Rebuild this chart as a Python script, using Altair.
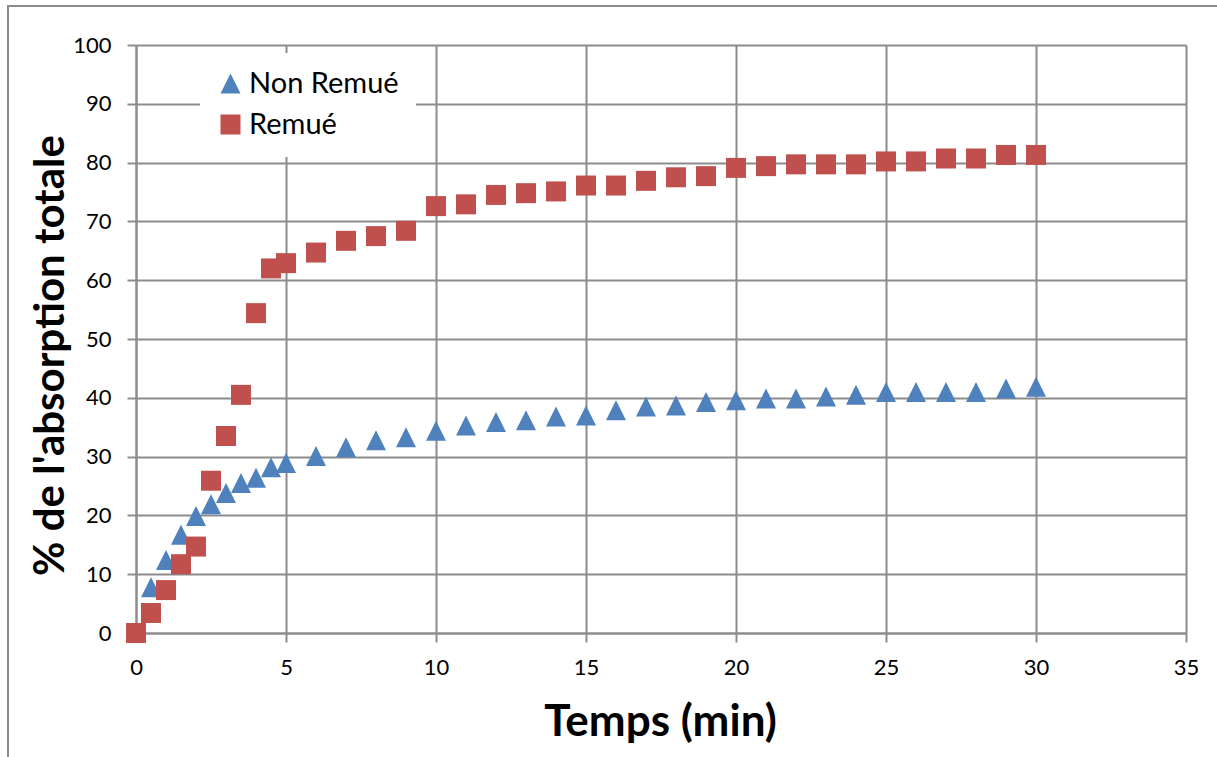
import altair as alt
import pandas as pd

temps = [0, 0.5, 1, 1.5, 2, 2.5, 3, 3.5, 4, 4.5, 5, 6, 7, 8, 9, 10, 11, 12, 13, 14,
         15, 16, 17, 18, 19, 20, 21, 22, 23, 24, 25, 26, 27, 28, 29, 30]
non_remue = [0, 7.8, 12.4, 16.7, 19.9, 21.9, 23.8, 25.5, 26.4, 28.2, 28.9, 30.1, 31.6,
             32.8, 33.3, 34.4, 35.3, 35.9, 36.2, 36.8, 37.0, 37.9, 38.5, 38.7, 39.3, 39.6,
             39.9, 39.9, 40.2, 40.5, 41.0, 41.0, 41.0, 41.0, 41.6, 41.9]
remue = [0, 3.4, 7.3, 11.7, 14.7, 25.9, 33.5, 40.5, 54.4, 62.0, 62.9, 64.7, 66.7, 67.5,
         68.4, 72.6, 72.9, 74.5, 74.8, 75.1, 76.1, 76.1, 76.9, 77.5, 77.7, 79.1, 79.4,
         79.7, 79.7, 79.7, 80.2, 80.2, 80.7, 80.7, 81.3, 81.3]
series = ["Non Remué", "Remué"]
colors = ["#4F81BD", "#C0504D"]
shapes = ["M0,-1L1,1L-1,1Z", "square"]

df = pd.DataFrame({
    "t": temps + temps,
    "v": non_remue + remue,
    "s": [series[0]] * len(temps) + [series[1]] * len(temps),
})

FONT = "Lato"
GRID = "#8c8c8c"

points = alt.Chart(df).mark_point(filled=True, size=400, opacity=1).encode(
    x=alt.X("t:Q", scale=alt.Scale(domain=[0, 35], nice=False, zero=False),
            axis=alt.Axis(values=list(range(0, 36, 5)), title="Temps (min)",
                          titleX=524, titleY=89, titleBaseline="middle",
                          labelPadding=15, labelFlush=False)),
    y=alt.Y("v:Q", scale=alt.Scale(domain=[0, 100], nice=False),
            axis=alt.Axis(values=list(range(0, 101, 10)), title="% de l'absorption totale",
                          titleX=-86, titleY=310, titleAngle=-90,
                          titleBaseline="middle", titleAlign="center",
                          labelPadding=16, labelFlush=False)),
    color=alt.Color("s:N", scale=alt.Scale(domain=series, range=colors), title=None),
    shape=alt.Shape("s:N", scale=alt.Scale(domain=series, range=shapes), title=None),
)

border = alt.Chart(pd.DataFrame({"a": [0]})).mark_rect(
    fill=None, stroke="#8c8c8c", strokeWidth=2, clip=False
).encode(
    x=alt.value(-128), x2=alt.value(1200), y=alt.value(-39), y2=alt.value(800)
)

chart = alt.layer(border, points).properties(
    width=1050, height=588,
    background="#ffffff",
    autosize=alt.AutoSizeParams(type="none"),
    padding={"left": 136, "top": 45, "right": 31, "bottom": 124},
).configure_view(
    stroke=None
).configure_axis(
    grid=True, gridColor=GRID, gridWidth=2, gridOpacity=1,
    domainColor=GRID, domainWidth=2,
    tickColor=GRID, tickWidth=2, tickSize=9,
    labelFont=FONT, labelFontSize=22, labelColor="#000000",
    titleFont=FONT, titleFontWeight="bold", titleColor="#000000",
).configure_axisX(
    titleFontSize=44
).configure_axisY(
    titleFontSize=42
).configure_legend(
    orient="none", legendX=64, legendY=8,
    fillColor="#ffffff", padding=16, strokeColor="#ffffff",
    labelFont=FONT, labelFontSize=29, labelColor="#000000",
    symbolSize=400, symbolStrokeWidth=0, labelOffset=4, rowPadding=11,
)

chart.save("out.html", embed_options={"renderer": "svg", "actions": False})
